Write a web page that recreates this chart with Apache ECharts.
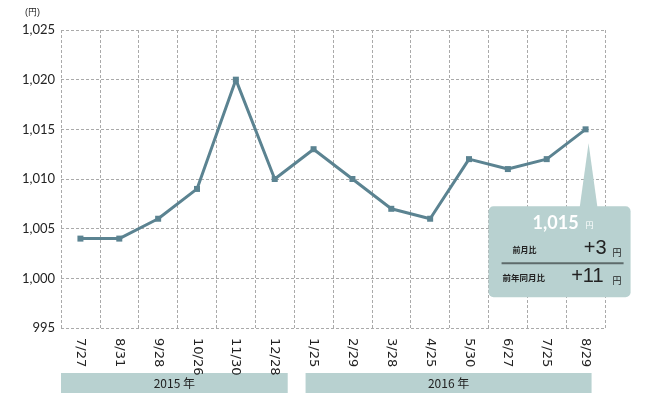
<!DOCTYPE html>
<html>
<head>
<meta charset="utf-8">
<script src="https://cdn.jsdelivr.net/npm/echarts@6/dist/echarts.min.js"></script>
<style>
html,body{margin:0;padding:0;background:#fff;}
#graph{width:650px;height:397px;}
</style>
</head>
<body>
<div id="graph"></div>
<script>
// 週の日付（カテゴリ）
var dates = ['7/27','8/31','9/28','10/26','11/30','12/28','1/25','2/29','3/28','4/25','5/30','6/27','7/25','8/29'];
// 価格（円）
var prices = [1004,1004,1006,1009,1020,1010,1013,1010,1007,1006,1012,1011,1012,1015];
// 年の帯 [ラベル, 最初のindex, 最後のindex]
var years = [['2015 年',0,5],['2016 年',6,13]];
// 吹き出しのテキスト
var latestText = '1,015';
var momText = '+3';
var yoyText = '+11';

var lineColor = '#5b8391';
var bandColor = '#b8d1d0';

var chart = echarts.init(document.getElementById('graph'));

var option = {
  backgroundColor:'#fff',
  animation:false,
  grid:{left:61,right:45,top:30,bottom:69},
  xAxis:{
    type:'category',
    data:dates,
    boundaryGap:true,
    axisLine:{show:false},
    axisTick:{show:false},
    axisLabel:{
      rotate:-90,
      margin:10,
      color:'#222',
      fontSize:13,
      fontFamily:'DejaVu Sans'
    },
    splitLine:{show:true,lineStyle:{type:[3,2],color:'#aaa',width:1}}
  },
  yAxis:{
    type:'value',
    min:995,
    max:1025,
    interval:5,
    name:'(円)',
    nameLocation:'end',
    nameGap:13,
    nameTextStyle:{align:'right',padding:[0,21,0,0],fontSize:9,color:'#222'},
    axisLine:{show:false},
    axisTick:{show:false},
    axisLabel:{
      margin:6,
      color:'#222',
      fontSize:13,
      fontFamily:'Lato',
      formatter:function(v){ return v.toLocaleString('en-US'); }
    },
    splitLine:{show:true,lineStyle:{type:[3,2],color:'#aaa',width:1}}
  },
  series:[{
    type:'line',
    data:prices,
    symbol:'rect',
    symbolSize:6,
    lineStyle:{color:lineColor,width:3},
    itemStyle:{color:lineColor},
    z:3
  }]
};
chart.setOption(option);

// 年の帯と吹き出しはピクセル位置をグラフから求める
function drawExtras(){
  var els = [];
  var gridRect = chart.getModel().getComponent('grid').coordinateSystem.getRect();
  years.forEach(function(y,i){
    var x0 = chart.convertToPixel({xAxisIndex:0}, y[1]);
    var x1 = chart.convertToPixel({xAxisIndex:0}, y[2]);
    var left = i===0 ? gridRect.x : x0-8;
    var right = i===0 ? x1+13 : x1+6;
    els.push({
      type:'rect',
      shape:{x:left,y:373,width:right-left,height:20},
      style:{fill:bandColor}
    });
    els.push({
      type:'text',
      x:(left+right)/2, y:383,
      style:{text:y[0],fill:'#222',font:'12px "Noto Sans CJK JP"',align:'center',verticalAlign:'middle'}
    });
  });

  var last = prices.length-1;
  var pt = chart.convertToPixel({seriesIndex:0},[last,prices[last]]);
  var bx = pt[0]-97, by = pt[1]+77, bw = 142, bh = 91;
  els.push({
    type:'polygon',
    shape:{points:[[pt[0]+3,pt[1]+14],[pt[0]-6,by+2],[pt[0]+12,by+2]]},
    style:{fill:bandColor}
  });
  els.push({
    type:'rect',
    shape:{x:bx,y:by,width:bw,height:bh,r:5},
    style:{fill:bandColor}
  });
  els.push({
    type:'text', x:bx+90, y:by+17,
    style:{text:latestText,fill:'#fff',font:'bold 18px Lato',align:'right',verticalAlign:'middle'}
  });
  els.push({
    type:'text', x:bx+97, y:by+19,
    style:{text:'円',fill:'#fff',font:'8px "Noto Sans CJK JP"',align:'left',verticalAlign:'middle'}
  });
  els.push({
    type:'text', x:bx+24, y:by+44,
    style:{text:'前月比',fill:'#222',font:'bold 8px "Noto Sans CJK JP"',align:'left',verticalAlign:'middle'}
  });
  els.push({
    type:'text', x:bx+118, y:by+42,
    style:{text:momText,fill:'#222',font:'20px "Liberation Sans"',align:'right',verticalAlign:'middle'}
  });
  els.push({
    type:'text', x:bx+124, y:by+46,
    style:{text:'円',fill:'#222',font:'9px "Noto Sans CJK JP"',align:'left',verticalAlign:'middle'}
  });
  els.push({
    type:'line',
    shape:{x1:bx+13,y1:by+57,x2:bx+135,y2:by+57},
    style:{stroke:'#5e6b6b',lineWidth:2}
  });
  els.push({
    type:'text', x:bx+14, y:by+71,
    style:{text:'前年同月比',fill:'#222',font:'bold 8.5px "Noto Sans CJK JP"',align:'left',verticalAlign:'middle'}
  });
  els.push({
    type:'text', x:bx+115, y:by+70,
    style:{text:yoyText,fill:'#222',font:'20px "Liberation Sans"',align:'right',verticalAlign:'middle'}
  });
  els.push({
    type:'text', x:bx+124, y:by+74,
    style:{text:'円',fill:'#222',font:'9px "Noto Sans CJK JP"',align:'left',verticalAlign:'middle'}
  });
  chart.setOption({graphic:{elements:els}});
}
drawExtras();
</script>
</body>
</html>
